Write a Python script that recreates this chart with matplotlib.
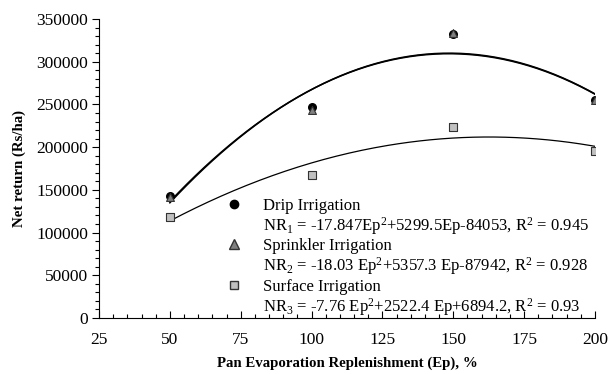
import numpy as np
import matplotlib.pyplot as plt
from matplotlib.ticker import MultipleLocator
from matplotlib.lines import Line2D

plt.rcParams['font.family'] = 'Liberation Serif'
plt.rcParams['mathtext.fontset'] = 'custom'
plt.rcParams['mathtext.rm'] = 'Liberation Serif'
plt.rcParams['mathtext.it'] = 'Liberation Serif:italic'

ep = [50, 100, 150, 200]
drip = [143000, 247000, 332000, 255000]
sprinkler = [142000, 244000, 334000, 255000]
surface = [118000, 167000, 224000, 196000]

# trend line coefficients as printed on the chart
drip_fit = [-17.847, 5299.5, -84053]
sprinkler_fit = [-18.03, 5357.3, -87942]
surface_fit = [-7.76, 2522.4, 6894.2]

labels = [
    ('Drip Irrigation', r'NR$_1$ = -17.847Ep$^2$+5299.5Ep-84053, R$^2$ = 0.945'),
    ('Sprinkler Irrigation', r'NR$_2$ = -18.03 Ep$^2$+5357.3 Ep-87942, R$^2$ = 0.928'),
    ('Surface Irrigation', r'NR$_3$ = -7.76 Ep$^2$+2522.4 Ep+6894.2, R$^2$ = 0.93'),
]

fig = plt.figure(figsize=(6.09, 3.74), dpi=100)
ax = fig.add_axes([99/609, 56/374, 496/609, 299/374])

xs = np.linspace(50, 200, 200)
ax.plot(xs, np.polyval(drip_fit, xs), color='black', lw=1.1)
ax.plot(xs, np.polyval(sprinkler_fit, xs), color='black', lw=1.1)
ax.plot(xs, np.polyval(surface_fit, xs), color='black', lw=0.9)

ax.scatter(ep, surface, marker='s', s=28, facecolor='#c0c0c0', edgecolor='#333333', lw=0.8, zorder=3)
ax.scatter(ep, drip, marker='o', s=30, facecolor='black', edgecolor='black', zorder=3)
ax.scatter(ep, sprinkler, marker='^', s=32, facecolor='#808080', edgecolor='#333333', lw=0.8, zorder=4)

ax.set_xlim(25, 200)
ax.set_ylim(0, 350000)
ax.xaxis.set_major_locator(MultipleLocator(25))
ax.xaxis.set_minor_locator(MultipleLocator(5))
ax.yaxis.set_major_locator(MultipleLocator(50000))
ax.yaxis.set_minor_locator(MultipleLocator(10000))
ax.tick_params(axis='x', which='major', direction='in', length=5, width=0.8, labelsize=12.5, pad=10)
ax.tick_params(axis='x', which='minor', direction='in', length=3, width=0.8)
ax.tick_params(axis='y', which='major', direction='out', length=5, width=0.8, labelsize=12.5, pad=3)
ax.tick_params(axis='y', which='minor', direction='out', length=3, width=0.8)
for s in ['top', 'right']:
    ax.spines[s].set_visible(False)

ax.set_xlabel('Pan Evaporation Replenishment (Ep), %', fontsize=10.7, fontweight='bold', labelpad=6)
ax.set_ylabel('Net return (Rs/ha)', fontsize=10.7, fontweight='bold', labelpad=7)

blank = Line2D([], [], linestyle='none')
handles = [
    Line2D([], [], marker='o', linestyle='none', markersize=6, markerfacecolor='black', markeredgecolor='black'),
    blank,
    Line2D([], [], marker='^', linestyle='none', markersize=6.5, markerfacecolor='#808080', markeredgecolor='#333333'),
    blank,
    Line2D([], [], marker='s', linestyle='none', markersize=5.5, markerfacecolor='#c0c0c0', markeredgecolor='#333333'),
    blank,
]
leg_labels = [t for pair in labels for t in pair]
ax.legend(handles, leg_labels, loc='lower left', bbox_to_anchor=(0.225, -0.05), frameon=False,
          fontsize=12, labelspacing=0.08, handlelength=1.0, handletextpad=1.25)

fig.savefig('out.png', dpi=100)
